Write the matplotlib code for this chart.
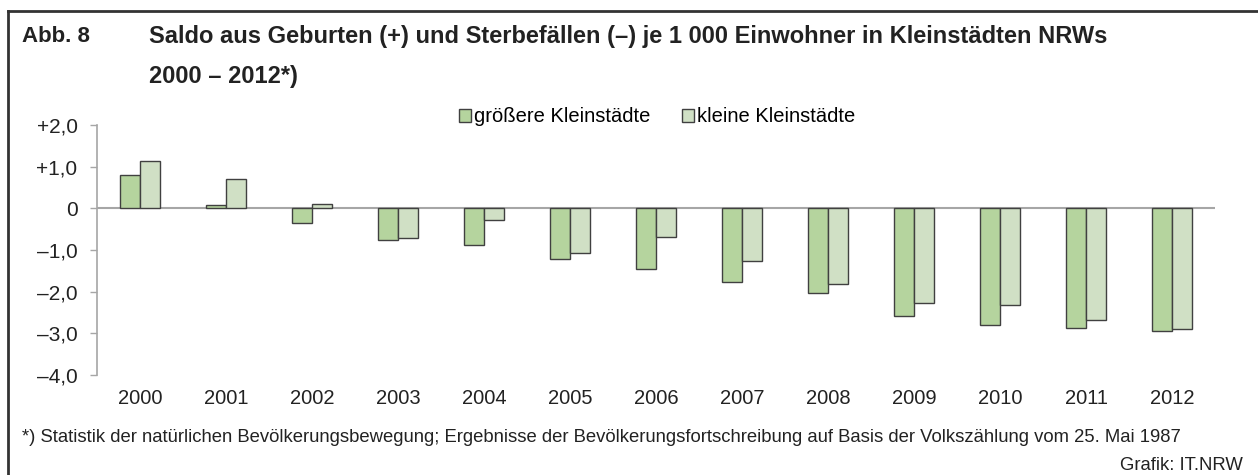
import numpy as np
import matplotlib.pyplot as plt
from matplotlib.lines import Line2D

plt.rcParams['font.family'] = ['Liberation Sans', 'DejaVu Sans']

# Daten (Saldo je 1 000 Einwohner)
jahre = ['2000', '2001', '2002', '2003', '2004', '2005', '2006',
         '2007', '2008', '2009', '2010', '2011', '2012']
groessere = [0.80, 0.09, -0.35, -0.75, -0.89, -1.22, -1.45,
             -1.77, -2.03, -2.59, -2.80, -2.87, -2.95]
kleine = [1.13, 0.71, 0.10, -0.71, -0.27, -1.08, -0.68,
          -1.26, -1.82, -2.28, -2.33, -2.68, -2.89]
y_ticks = [2, 1, 0, -1, -2, -3, -4]
y_labels = ['+2,0', '+1,0', '0', '–1,0', '–2,0', '–3,0', '–4,0']

W, H = 1258, 475
fig = plt.figure(figsize=(W / 100, H / 100), dpi=100)

# Rahmen oben und links
fig.add_artist(Line2D([8 / W, 1], [1 - 11 / H, 1 - 11 / H], color='#333333', lw=2))
fig.add_artist(Line2D([8 / W, 8 / W], [0, 1 - 11 / H], color='#333333', lw=2))

# Titel
fig.text(22 / W, 1 - 36 / H, 'Abb. 8', fontsize=16, fontweight='bold',
         color='#222222', va='center')
fig.text(149 / W, 1 - 36 / H,
         'Saldo aus Geburten (+) und Sterbefällen (–) je 1 000 Einwohner in Kleinstädten NRWs',
         fontsize=17, fontweight='bold', color='#222222', va='center')
fig.text(149 / W, 1 - 77 / H, '2000 – 2012*)', fontsize=17, fontweight='bold',
         color='#222222', va='center')

ax = fig.add_axes([97 / W, 100 / H, (1215 - 97) / W, 250 / H])
x = np.arange(len(jahre))
bw = 0.235
ax.bar(x - bw / 2, groessere, bw, color='#b5d49e', edgecolor='#404040', lw=1,
       label='größere Kleinstädte', zorder=3)
ax.bar(x + bw / 2, kleine, bw, color='#d0e0c5', edgecolor='#404040', lw=1,
       label='kleine Kleinstädte', zorder=3)
ax.axhline(0, color='#a6a6a6', lw=1.5, zorder=2)

ax.set_xlim(-0.5, len(jahre) - 0.5)
ax.set_ylim(-4, 2)
ax.set_yticks(y_ticks)
ax.set_yticklabels(y_labels)
ax.set_xticks(x)
ax.set_xticklabels(jahre)
ax.tick_params(axis='x', length=0, pad=10, labelsize=14.5, colors='#222222')
ax.tick_params(axis='y', length=5, width=1, color='#a6a6a6', pad=9,
               labelsize=15, labelcolor='#222222')
for s in ['top', 'right', 'bottom']:
    ax.spines[s].set_visible(False)
ax.spines['left'].set_color('#a6a6a6')
ax.spines['left'].set_linewidth(1.2)

ax.legend(loc='center', bbox_to_anchor=(0.501, 1.032), ncol=2, frameon=False,
          fontsize=14.5, handlelength=0.6, handleheight=0.6, handletextpad=0.15,
          columnspacing=1.6, borderpad=0)

fig.text(22 / W, 1 - 437 / H,
         '*) Statistik der natürlichen Bevölkerungsbewegung; Ergebnisse der '
         'Bevölkerungsfortschreibung auf Basis der Volkszählung vom 25. Mai 1987',
         fontsize=13.3, color='#222222', va='center')
fig.text(1243 / W, 1 - 466 / H, 'Grafik: IT.NRW', fontsize=13.3, color='#222222',
         va='center', ha='right')

fig.savefig('out.png', dpi=100)
